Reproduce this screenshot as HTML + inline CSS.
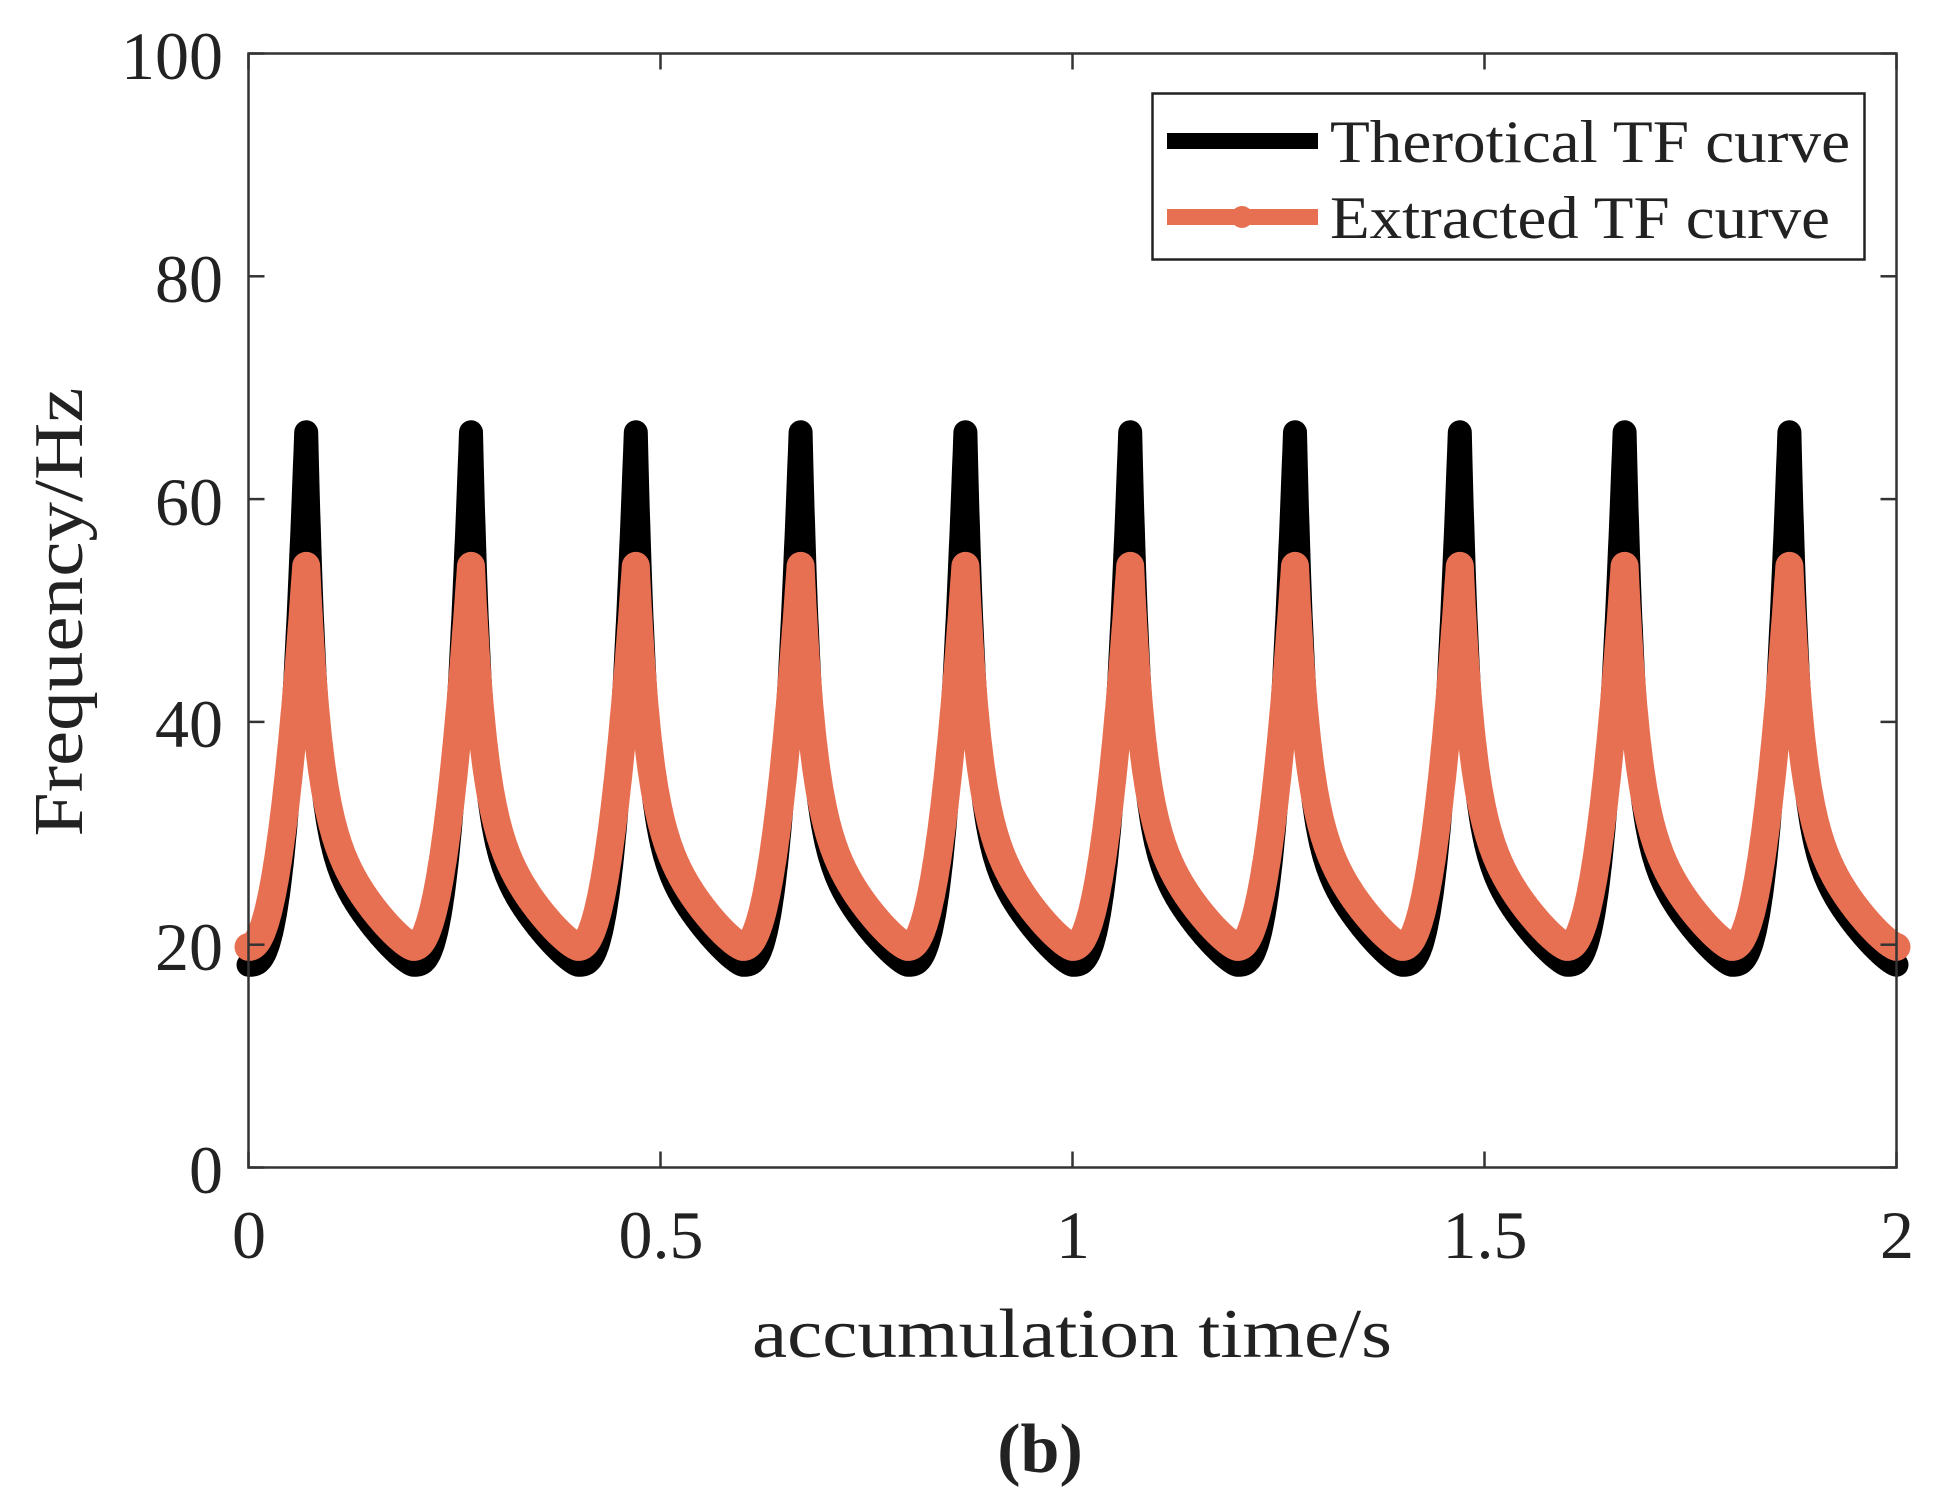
<!DOCTYPE html>
<html><head><meta charset="utf-8"><style>
html,body{margin:0;padding:0;background:#fff;}
svg{display:block;}
text{font-family:"Liberation Serif",serif;fill:#222;}
</style></head><body>
<svg id="s" width="1954" height="1503" viewBox="0 0 1954 1503" xmlns="http://www.w3.org/2000/svg">
<rect width="1954" height="1503" fill="#fff"/>
<g id="curves"></g>
<rect x="248.5" y="53.5" width="1648" height="1114" fill="none" stroke="#333" stroke-width="2.5"/>
<g id="ticks" stroke="#333" stroke-width="2.5"></g>
<g font-size="68" text-anchor="end">
<text x="223" y="1193">0</text>
<text x="223" y="970">20</text>
<text x="223" y="747">40</text>
<text x="223" y="525">60</text>
<text x="223" y="302">80</text>
<text x="223" y="79">100</text>
</g>
<g font-size="68" text-anchor="middle">
<text x="249" y="1258">0</text>
<text x="661" y="1258">0.5</text>
<text x="1073" y="1258">1</text>
<text x="1485" y="1258">1.5</text>
<text x="1897" y="1258">2</text>
</g>
<text x="1072" y="1357" font-size="70" text-anchor="middle" textLength="640" lengthAdjust="spacingAndGlyphs">accumulation time/s</text>
<text x="1040" y="1472" font-size="70" font-weight="bold" text-anchor="middle">(b)</text>
<text transform="translate(82,612) rotate(-90)" font-size="70" text-anchor="middle" textLength="449" lengthAdjust="spacingAndGlyphs">Frequency/Hz</text>
<rect x="1152.5" y="93.5" width="712" height="166" fill="#fff" stroke="#222" stroke-width="2.5"/>
<line x1="1167" y1="141" x2="1318" y2="141" stroke="#000" stroke-width="16"/>
<line x1="1167" y1="217" x2="1318" y2="217" stroke="#E87052" stroke-width="16"/>
<circle cx="1242" cy="217" r="11" fill="#E87052"/>
<text x="1330" y="162" font-size="60" textLength="520" lengthAdjust="spacingAndGlyphs">Therotical TF curve</text>
<text x="1330" y="238" font-size="60" textLength="500" lengthAdjust="spacingAndGlyphs">Extracted TF curve</text>
</svg>
<script>
(function(){
var X0=248.5,X1=1896.5,Y0=1167.5,Y1=53.5;
function px(t){return X0+(X1-X0)*t/2;}
function py(f){return Y0-(Y0-Y1)*f/100;}
function black(t){var u=t%0.2;if(u<0.07){return 18.2+47.8*Math.pow(u/0.07,3);}var d=u-0.07;return 18.2+35.8*Math.exp(-d/0.012)+12*Math.pow(1-d/0.13,1.3);}
function orange(t){var u=t%0.2;if(u<0.07){return 19.8+34.2*Math.pow(u/0.07,2.2);}var d=u-0.07;return 19.8+22.2*Math.exp(-d/0.015)+12*Math.pow(1-d/0.13,1.3);}
function path(fn){var s="";for(var i=0;i<=4000;i++){var t=i*2/4000;s+=(i?"L":"M")+px(t).toFixed(1)+","+py(fn(t)).toFixed(1);}return s;}
var g=document.getElementById("curves");
g.innerHTML='<path d="'+path(black)+'" fill="none" stroke="#000" stroke-width="24" stroke-linejoin="round" stroke-linecap="round"/>'+
'<path d="'+path(orange)+'" fill="none" stroke="#E87052" stroke-width="28" stroke-linejoin="round" stroke-linecap="round"/>';
var tk=document.getElementById("ticks"),h="";
[0,0.5,1,1.5,2].forEach(function(t){var x=px(t);h+='<line x1="'+x+'" y1="'+Y0+'" x2="'+x+'" y2="'+(Y0-16)+'"/><line x1="'+x+'" y1="'+Y1+'" x2="'+x+'" y2="'+(Y1+16)+'"/>';});
[0,20,40,60,80,100].forEach(function(f){var y=py(f);h+='<line x1="'+X0+'" y1="'+y+'" x2="'+(X0+16)+'" y2="'+y+'"/><line x1="'+X1+'" y1="'+y+'" x2="'+(X1-16)+'" y2="'+y+'"/>';});
tk.innerHTML=h;
})();
</script>
</body></html>
